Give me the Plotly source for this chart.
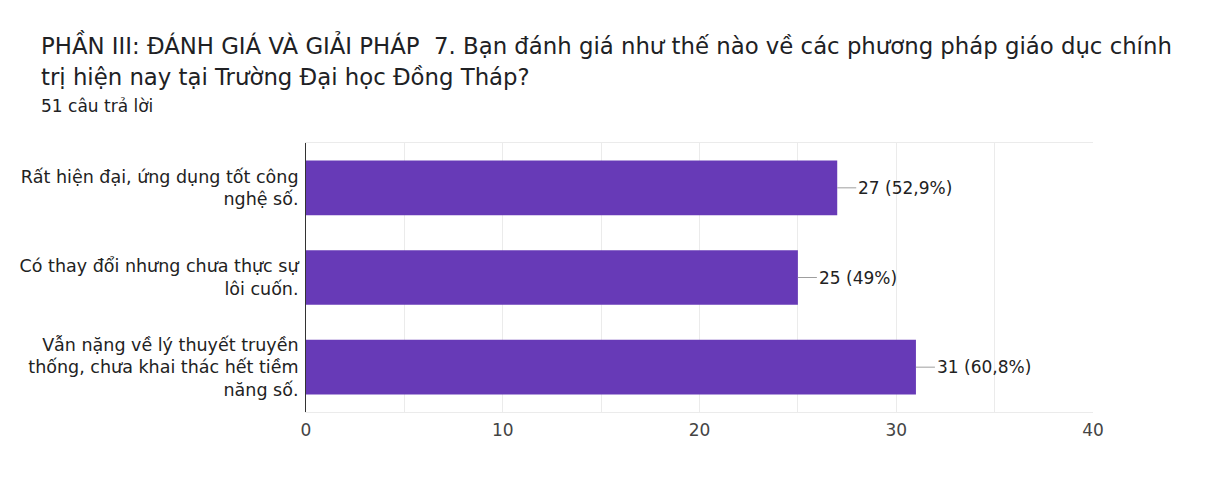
import plotly.graph_objects as go

# survey answers (Google Forms style summary)
categories = [
    "Rất hiện đại, ứng dụng tốt công<br>nghệ số.",
    "Có thay đổi nhưng chưa thực sự<br>lôi cuốn.",
    "Vẫn nặng về lý thuyết truyền<br>thống, chưa khai thác hết tiềm<br>năng số.",
]
counts = [27, 25, 31]
pct_labels = ["52,9%", "49%", "60,8%"]
x_ticks = [0, 10, 20, 30, 40]

title_line1 = "PHẦN III: ĐÁNH GIÁ VÀ GIẢI PHÁP  7. Bạn đánh giá như thế nào về các phương pháp giáo dục chính"
title_line2 = "trị hiện nay tại Trường Đại học Đồng Tháp?"
subtitle = "51 câu trả lời"

# page has an 8px body margin, so the figure is a bit smaller than the window
OFF = 8
W, H = 1208, 484
L, R, T, B = 304 - OFF, 123, 143 - OFF, 80
plot_w = W - L - R
plot_h = H - T - B


def px_x(sx):
    return (sx - OFF - L) / plot_w


def px_y(sy):
    return (H - B - (sy - OFF)) / plot_h


FONT = "DejaVu Sans, Arial"

fig = go.Figure(go.Bar(
    x=counts, y=categories, orientation="h",
    marker=dict(color="#673ab7", line=dict(width=0)),
    width=0.61, hoverinfo="skip",
))

# value labels with a short leader line
for c, cat, p in zip(counts, categories, pct_labels):
    fig.add_annotation(
        x=c, y=cat, text=f"{c} ({p})", showarrow=True, arrowhead=0,
        arrowwidth=1, arrowcolor="#9e9e9e", ax=19, ay=0, xanchor="left",
        font=dict(family=FONT, size=17, color="#222222"),
    )

# title block (annotations so line spacing can follow the original)
for txt, sy, size in [(title_line1, 45, 22.8), (title_line2, 77, 22.8), (subtitle, 106, 17)]:
    fig.add_annotation(xref="paper", yref="paper", x=px_x(36), y=px_y(sy),
                       xanchor="left", yanchor="middle", showarrow=False, text=txt,
                       font=dict(family=FONT, size=size, color="#202124"))

fig.update_layout(
    width=W, height=H, margin=dict(l=L, r=R, t=T, b=B),
    plot_bgcolor="white", paper_bgcolor="white", showlegend=False,
    font=dict(family=FONT, size=17, color="#222222"),
)
fig.update_xaxes(
    range=[0, 40], tickvals=x_ticks, showgrid=True, gridcolor="#ebebeb",
    minor=dict(dtick=5, showgrid=True, gridcolor="#ebebeb"),
    showline=True, linecolor="#ebebeb", mirror=True, zeroline=False,
    tickfont=dict(size=17, color="#444444"), ticks="", ticklabelstandoff=3,
)
fig.update_yaxes(
    autorange="reversed", showline=True, linecolor="#333333", linewidth=1,
    ticks="", ticklabelstandoff=3, tickfont=dict(size=17.5, color="#222222"),
)

fig.write_html("out.html")
